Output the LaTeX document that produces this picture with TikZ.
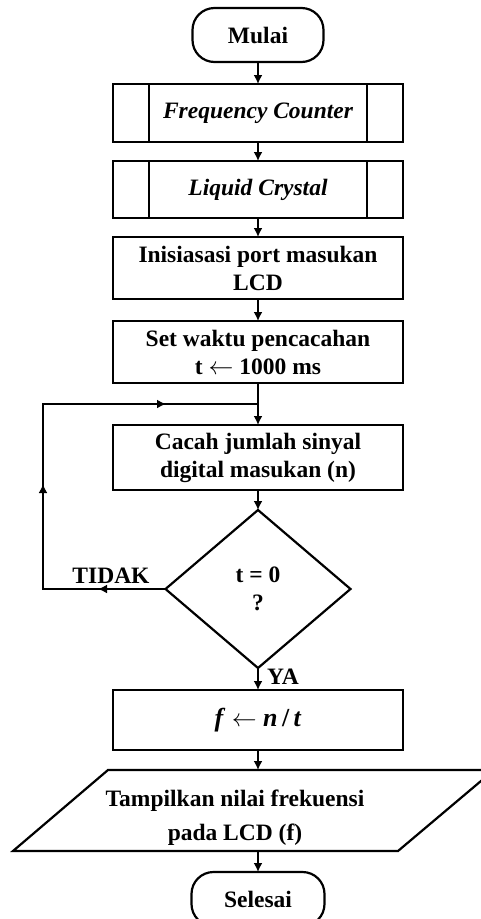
\documentclass[tikz,border=0pt]{standalone}
\usepackage{fontspec}
\setmainfont{Liberation Serif}
\usetikzlibrary{shapes.geometric,arrows.meta,calc}
\begin{document}
\begin{tikzpicture}[x=1pt,y=-1pt,
  every node/.style={font=\fontsize{23.5}{28}\selectfont\bfseries, align=center, inner sep=0pt, outer sep=0pt},
  shp/.style={draw, line width=2.2pt},
  box/.style={shp, rectangle, minimum width=290pt},
  term/.style={shp, rectangle, rounded corners=22pt, minimum height=54pt},
  lbl/.style={font=\fontsize{23.5}{28}\selectfont\bfseries},
  arr/.style={line width=2.2pt, -{Latex[length=9pt,width=9pt]}},
  ln/.style={line width=2.2pt}
]
\useasboundingbox (0,0) rectangle (481,919);

\node[term, minimum width=131pt] (start) at (258,35) {Mulai};
\node[box, minimum height=58pt] (fc) at (258,113) {\itshape Frequency Counter};
\node[box, minimum height=57pt] (lc) at (258,189.5) {\itshape Liquid Crystal};
\node[box, minimum height=62pt] (init) at (258,268) {Inisiasasi port masukan\\LCD};
\node[box, minimum height=62pt] (set) at (258,352) {Set waktu pencacahan\\t $\leftarrow$ 1000 ms};
\node[box, minimum height=65pt] (cnt) at (258,457.5) {Cacah jumlah sinyal\\digital masukan (n)};
\node[shp, diamond, aspect=1.17, minimum width=185pt, minimum height=158pt] (dec) at (258,589) {t = 0\\?};
\node[box, minimum height=60pt, font=\fontsize{26}{28}\selectfont\bfseries] (fbox) at (258,720) {\textit{f} $\leftarrow$ \textit{n}\,/\,\textit{t}};
\node[minimum width=300pt, minimum height=81pt, font=\fontsize{23.5}{34}\selectfont\bfseries] (io) at (235,818) {Tampilkan nilai frekuensi\\pada LCD (f)};
\node[term, minimum width=133pt] (stop) at (258,899) {Selesai};

% subroutine inner lines
\foreach \n in {fc,lc}{
  \draw[ln] ([xshift=36pt]\n.north west) -- ([xshift=36pt]\n.south west);
  \draw[ln] ([xshift=-36pt]\n.north east) -- ([xshift=-36pt]\n.south east);
}

% parallelogram
\coordinate (p1) at (108,770);
\coordinate (p2) at (494,770);
\coordinate (p3) at (398,851);
\coordinate (p4) at (13,851);
\draw[ln] (p1) -- (p2) -- (p3) -- (p4) -- cycle;
\coordinate (iot) at (258,770);
\coordinate (iob) at (258,851);

% main arrows
\draw[arr] (start.south) -- (fc.north);
\draw[arr] (fc.south) -- (lc.north);
\draw[arr] (lc.south) -- (init.north);
\draw[arr] (init.south) -- (set.north);
\draw[arr] (set.south) -- (cnt.north);
\draw[arr] (cnt.south) -- (dec.north);
\draw[arr] (dec.south) -- (fbox.north);
\draw[arr] (fbox.south) -- (iot);
\draw[arr] (iob) -- (stop.north);

% loop back
\coordinate (lb) at (43,589);
\coordinate (lt) at (43,404);
\coordinate (jn) at (258,404);
\coordinate (m1) at (98,589);
\coordinate (m2) at (43,484);
\coordinate (m3) at (166,404);
\draw[ln] (dec.west) -- (lb) -- (lt) -- (jn);
\draw[arr] (dec.west) -- (m1);
\draw[arr] (lb) -- (m2);
\draw[arr] (lt) -- (m3);

% labels
\node[lbl] (no) at (111,576) {TIDAK};
\node[lbl] (yes) at (283,677) {YA};
\end{tikzpicture}
\end{document}
